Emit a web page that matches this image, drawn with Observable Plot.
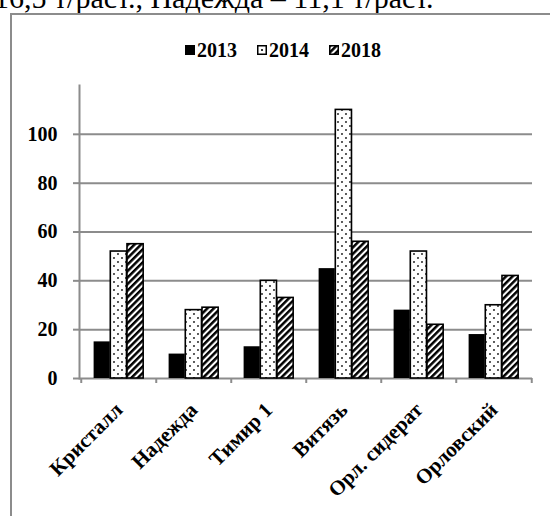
<!DOCTYPE html>
<html>
<head>
<meta charset="utf-8">
<script src="https://cdn.jsdelivr.net/npm/d3@7"></script>
<script src="https://cdn.jsdelivr.net/npm/@observablehq/plot@0.6"></script>
<style>
  html, body { margin: 0; padding: 0; background: #fff; }
  #wrap { position: relative; width: 550px; height: 516px; overflow: hidden; background: #fff; }
  #chart { position: absolute; left: 0; top: 0; }
  #toptext { position: absolute; left: -6px; top: -17px; font: 30px "Liberation Serif", serif; line-height: 30px; white-space: nowrap; color: #000; }
  #frame { position: absolute; left: 10px; top: 13px; width: 560px; height: 520px; border-left: 2px solid #8c8c8c; border-top: 2px solid #8c8c8c; box-sizing: border-box; }
  #legend { position: absolute; left: 185px; top: 40px; display: flex; align-items: center; gap: 20px; font: bold 20px "Liberation Serif", serif; line-height: 20px; color: #000; }
  #legend .item { display: flex; align-items: center; gap: 2px; }
  #legend svg { display: block; }
</style>
</head>
<body>
<div id="wrap">
  <div id="toptext">16,5 т/раст., Надежда – 11,1 т/раст.</div>
  <div id="frame"></div>
  <div id="chart"></div>
  <div id="legend"></div>
</div>
<script>
// ---- data ----
const categories = ["Кристалл", "Надежда", "Тимир 1", "Витязь", "Орл. сидерат", "Орловский"];
const years = ["2013", "2014", "2018"];
const v2013 = [15, 10, 13, 45, 28, 18];
const v2014 = [52, 28, 40, 110, 52, 30];
const v2018 = [55, 29, 33, 56, 22, 42];
const yTicks = [0, 20, 40, 60, 80, 100];

const series = { "2013": v2013, "2014": v2014, "2018": v2018 };
const rows = years.flatMap(yr => categories.map((c, i) => ({ cat: c, year: yr, value: series[yr][i] })));

// ---- layout ----
const width = 550, height = 516;
const marginLeft = 79, marginRight = 18, marginTop = 85, marginBottom = 138;
const bw = (width - marginLeft - marginRight) / categories.length;
const pad = bw * 0.167, barW = bw * 0.221;
const grid = "#8c8c8c";

const fills = { "2013": "black", "2014": "url(#dots)", "2018": "url(#hatch)" };

const barMarks = years.map((yr, k) => Plot.barY(rows.filter(d => d.year === yr), {
  x: "cat", y: "value",
  fill: fills[yr],
  stroke: "black",
  strokeWidth: yr === "2013" ? 0 : 1.6,
  insetLeft: pad + k * barW,
  insetRight: bw - pad - (k + 1) * barW
}));

const font = "Liberation Serif, serif";

const svg = Plot.plot({
  width, height, marginLeft, marginRight, marginTop, marginBottom,
  style: { fontFamily: font, fontSize: "20px", fontWeight: "bold", background: "transparent", color: "black" },
  x: { type: "band", domain: categories, padding: 0 },
  y: { domain: [0, 120] },
  marks: [
    Plot.gridY(yTicks.filter(t => t > 0), { stroke: grid, strokeOpacity: 1, strokeWidth: 2 }),
    Plot.frame({ anchor: "left", stroke: grid, strokeWidth: 2 }),
    Plot.ruleY([0], { stroke: grid, strokeWidth: 2 }),
    ...barMarks,
    Plot.axisY({ ticks: yTicks, tickSize: 6, tickPadding: 16, stroke: grid, strokeWidth: 2, fill: "black",
      fontSize: 20, fontWeight: "bold", fontFamily: font, label: null }),
    Plot.axisX({ ticks: categories, tickSize: 5, tickFormat: () => "", dx: -bw / 2, stroke: grid, strokeWidth: 2, label: null }),
    Plot.axisX({ ticks: categories.slice(-1), tickSize: 5, tickFormat: () => "", dx: bw / 2, stroke: grid, strokeWidth: 2, label: null }),
    Plot.axisX({ ticks: categories, tickSize: 0, tickPadding: 28, tickRotate: -45, fill: "black",
      fontSize: 21, fontWeight: "bold", fontFamily: font, label: null })
  ]
});

svg.insertAdjacentHTML("afterbegin", `
<defs>
  <pattern id="dots" patternUnits="userSpaceOnUse" width="8" height="8">
    <rect width="8" height="8" fill="white"/>
    <circle cx="2" cy="2" r="1.05" fill="#333"/>
    <circle cx="6" cy="6" r="1.05" fill="#333"/>
  </pattern>
  <pattern id="hatch" patternUnits="userSpaceOnUse" width="4.6" height="4.6" patternTransform="rotate(45)">
    <rect width="4.6" height="4.6" fill="white"/>
    <rect width="2.5" height="4.6" fill="black"/>
  </pattern>
</defs>`);
document.getElementById("chart").appendChild(svg);

// ---- legend ----
const legend = document.getElementById("legend");
years.forEach(yr => {
  const item = document.createElement("div");
  item.className = "item";
  let sw;
  if (yr === "2013") sw = `<svg width="10" height="10"><rect width="10" height="10" fill="black"/></svg>`;
  else if (yr === "2014") sw = `<svg width="10" height="10"><rect x="0.75" y="0.75" width="8.5" height="8.5" fill="white" stroke="black" stroke-width="1.5"/><rect x="4" y="4" width="2" height="2" fill="#333"/></svg>`;
  else sw = `<svg width="10" height="10"><rect x="0.75" y="0.75" width="8.5" height="8.5" fill="url(#hatch)" stroke="black" stroke-width="1.5"/></svg>`;
  item.innerHTML = sw + `<span>${yr}</span>`;
  legend.appendChild(item);
});
</script>
</body>
</html>
